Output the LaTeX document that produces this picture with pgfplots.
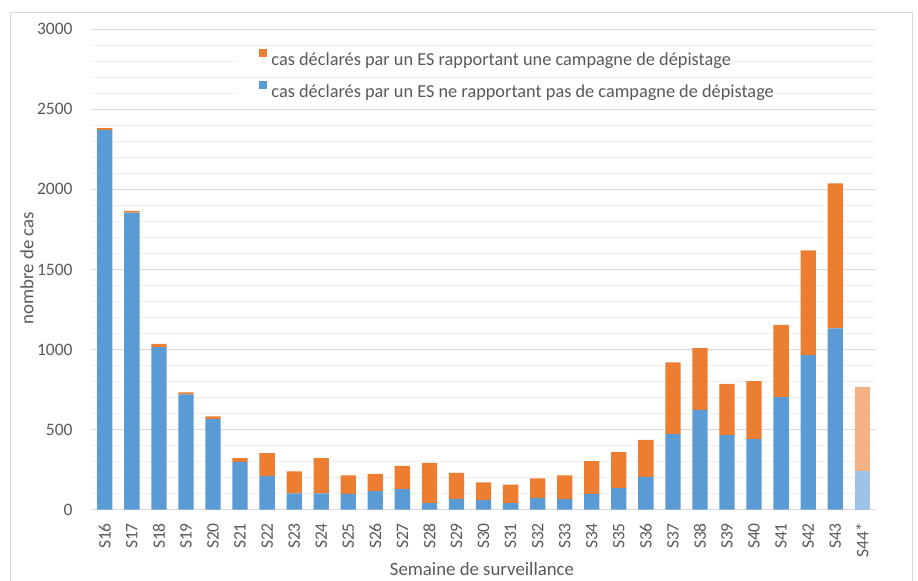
\documentclass[border=0pt]{standalone}
\usepackage{fontspec}
\setmainfont{Carlito}
\usepackage{pgfplots}
\usepackage{pgfplotstable}
\pgfplotsset{compat=1.18}
\definecolor{cblue}{HTML}{5B9BD5}
\definecolor{corange}{HTML}{ED7D31}
\definecolor{clblue}{HTML}{9DC3E6}
\definecolor{clorange}{HTML}{F4B183}
\definecolor{ctext}{HTML}{595959}
\definecolor{cmajor}{HTML}{D9D9D9}
\definecolor{cminor}{HTML}{F0F0F0}
\pgfplotstableread{
x blue orange lblue lorange
0 2370 12 0 0
1 1855 10 0 0
2 1015 20 0 0
3 720 12 0 0
4 565 17 0 0
5 298 23 0 0
6 210 142 0 0
7 100 138 0 0
8 100 221 0 0
9 97 116 0 0
10 115 108 0 0
11 127 146 0 0
12 40 252 0 0
13 67 162 0 0
14 60 109 0 0
15 40 116 0 0
16 73 121 0 0
17 65 148 0 0
18 98 204 0 0
19 133 225 0 0
20 204 231 0 0
21 473 446 0 0
22 623 385 0 0
23 465 320 0 0
24 440 362 0 0
25 702 452 0 0
26 965 654 0 0
27 1131 906 0 0
28 0 0 242 525
}\data
\begin{document}
\begin{tikzpicture}
\useasboundingbox (-91.3bp,-71.5bp) rectangle (826.7bp,509.5bp);
\begin{axis}[
  at={(0,0)}, anchor=south west,
  scale only axis, width=784.5bp, height=480.2bp,
  xmin=-0.5, xmax=28.5, ymin=0, ymax=3000,
  ybar stacked, bar width=15.3bp,
  xtick=data,
  xticklabels={S16,S17,S18,S19,S20,S21,S22,S23,S24,S25,S26,S27,S28,S29,S30,S31,S32,S33,S34,S35,S36,S37,S38,S39,S40,S41,S42,S43,S44*},
  ytick={0,500,...,3000},
  minor ytick={100,200,300,400,600,700,800,900,1100,1200,1300,1400,1600,1700,1800,1900,2100,2200,2300,2400,2600,2700,2800,2900},
  ymajorgrids, yminorgrids,
  major grid style={cmajor, line width=1.2bp},
  minor grid style={cminor, line width=1.2bp},
  axis line style={draw=none},
  major tick length=0pt, minor tick length=0pt,
  tick style={draw=none},
  scaled y ticks=false,
  /pgf/number format/1000 sep={},
  /pgf/number format/assume math mode=true,
  tick label style={font=\fontsize{17.5bp}{20bp}\selectfont, text=ctext, inner sep=0pt},
  xticklabel style={rotate=90, anchor=east},
  yticklabel style={anchor=east},
  xticklabel shift=13.5bp,
  yticklabel shift=18.6bp,
  xlabel={Semaine de surveillance},
  xlabel style={at={(axis description cs:0.498,-0.1364)}, anchor=base, font=\fontsize{18.8bp}{22bp}\selectfont, text=ctext, inner sep=0pt},
  ylabel={nombre de cas},
  ylabel style={at={(axis description cs:-0.0739,0.503)}, anchor=base, font=\fontsize{18.8bp}{22bp}\selectfont, text=ctext, inner sep=0pt},
  reverse legend,
  legend cell align=left,
  legend style={at={(axis description cs:0.188,0.9640)}, anchor=north west, draw=none, fill=none, inner sep=0pt, column sep=0pt, row sep=8.3bp,
    font=\fontsize{18.3bp}{21bp}\selectfont, text=ctext,
    nodes={fill=white, inner sep=0.5bp, text height=13.7bp, text depth=4bp}},
]
\addplot[fill=cblue, draw=none,
  legend image code/.code={\fill[white] (-20bp,-4.5bp) rectangle (12bp,14bp); \fill[cblue] (0bp,3.3bp) rectangle (8.4bp,11.7bp);}]
  table[x=x, y=blue] {\data};
\addlegendentry{cas déclarés par un ES ne rapportant pas de campagne de dépistage}
\addplot[fill=clblue, draw=none, forget plot] table[x=x, y=lblue] {\data};
\addplot[fill=corange, draw=none,
  legend image code/.code={\fill[white] (-20bp,-4.5bp) rectangle (12bp,14bp); \fill[corange] (0bp,3.3bp) rectangle (8.4bp,11.7bp);}]
  table[x=x, y=orange] {\data};
\addlegendentry{cas déclarés par un ES rapportant une campagne de dépistage}
\addplot[fill=clorange, draw=none, forget plot] table[x=x, y=lorange] {\data};
\end{axis}
\draw[cmajor, line width=1bp] (-80.3bp,-90bp) -- (-80.3bp,496.8bp) -- (820.7bp,496.8bp) -- (820.7bp,-90bp);
\end{tikzpicture}
\end{document}
